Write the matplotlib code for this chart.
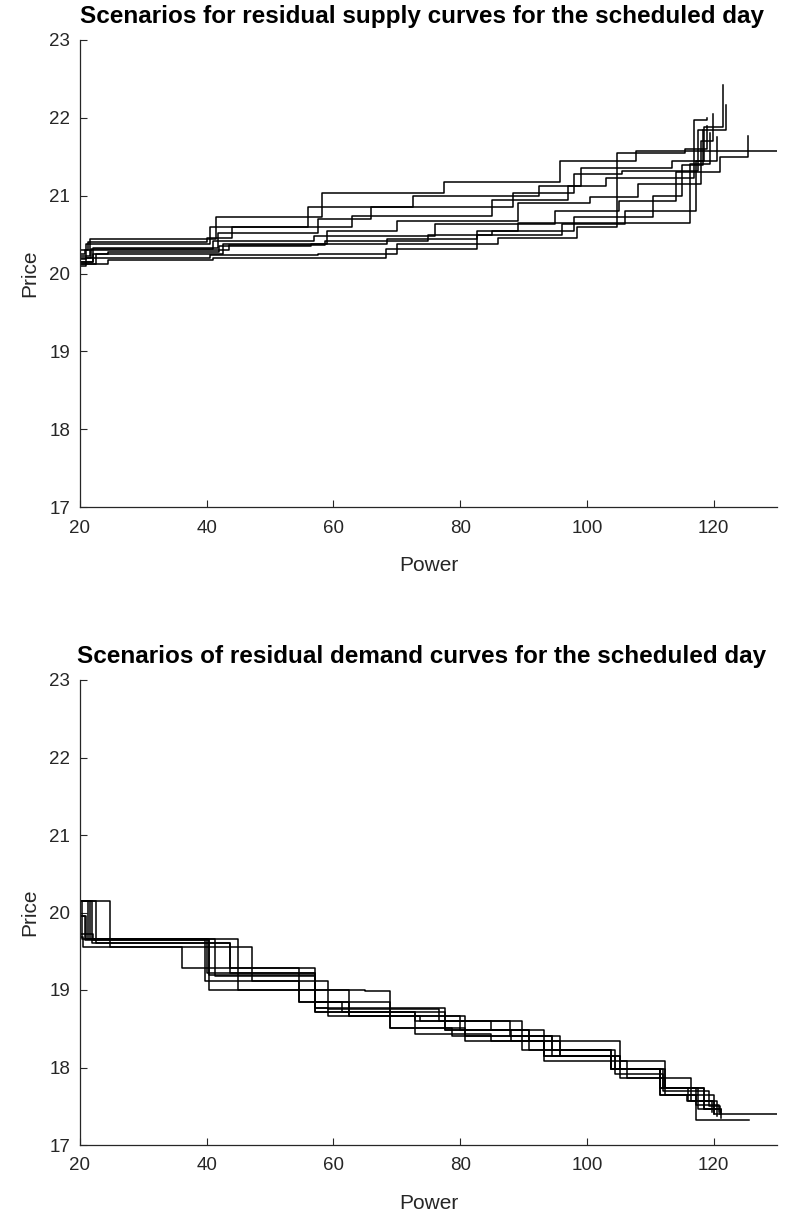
import matplotlib
matplotlib.use("Agg")
import matplotlib.pyplot as plt

plt.rcParams['font.family'] = ['Liberation Sans', 'DejaVu Sans']

# ---------------- data: residual supply scenarios (power breakpoints, price levels) ----
s1_x = [20, 21.5, 41.5, 58.2, 77.5, 95.8, 107.7, 130]
s1_y = [20.22, 20.44, 20.73, 21.04, 21.17, 21.44, 21.57, 21.57]
s2_x = [20, 21, 40.5, 56, 72.6, 92.5, 99, 113.5, 118.5, 121.4]
s2_y = [20.18, 20.38, 20.6, 20.86, 21.0, 21.13, 21.36, 21.45, 21.88, 22.42]
s3_x = [20, 22, 41.8, 57.5, 66, 88.4, 98, 105.5, 117.5, 121.9]
s3_y = [20.15, 20.33, 20.52, 20.70, 20.85, 21.03, 21.28, 21.32, 21.85, 22.16]
s4_x = [20, 21.2, 40, 44, 63, 85, 97, 103, 116.9, 119]
s4_y = [20.3, 20.40, 20.46, 20.6, 20.74, 20.95, 21.13, 21.23, 21.97, 22.0]
s5_x = [20, 22.5, 42.5, 59, 70, 89.2, 100.5, 108, 118, 119.9]
s5_y = [20.12, 20.25, 20.38, 20.55, 20.68, 20.9, 20.98, 21.15, 21.7, 22.05]
s6_x = [20, 21.8, 41, 57, 76, 95, 105, 114, 121, 125.4]
s6_y = [20.2, 20.32, 20.42, 20.48, 20.63, 20.8, 20.93, 21.3, 21.5, 21.77]
s7_x = [20, 20.8, 43.5, 58.6, 75, 85, 98, 110.5, 115, 118.4]
s7_y = [20.25, 20.30, 20.37, 20.42, 20.5, 20.55, 20.72, 21.0, 21.4, 21.85]
s8_x = [20, 22, 24.4, 42, 56.5, 68.5, 82.7, 96, 106, 117.2, 120.6]
s8_y = [20.15, 20.25, 20.28, 20.35, 20.38, 20.44, 20.5, 20.63, 20.8, 21.45, 21.75]
s9_x = [20, 21, 40.5, 57.5, 70, 86, 98.5, 104.8, 115.5, 118.9]
s9_y = [20.1, 20.2, 20.24, 20.25, 20.38, 20.45, 20.6, 21.55, 21.6, 21.9]
s10_x = [20, 24.4, 41, 68.3, 82.7, 89.2, 116.3, 119.5]
s10_y = [20.12, 20.17, 20.2, 20.32, 20.55, 20.65, 21.41, 21.8]

supply_x = [s1_x, s2_x, s3_x, s4_x, s5_x, s6_x, s7_x, s8_x, s9_x, s10_x]
supply_y = [s1_y, s2_y, s3_y, s4_y, s5_y, s6_y, s7_y, s8_y, s9_y, s10_y]

# ---------------- data: residual demand scenarios ----------------
d1_x = [20, 24.7, 36.1, 54.5, 69.0, 80.8, 93.2, 103.8, 111.6, 117.2, 125.6]
d1_y = [20.15, 19.55, 19.29, 18.84, 18.51, 18.34, 18.15, 17.98, 17.65, 17.32, 17.32]
d2_x = [20, 20.3, 40.3, 57.1, 77.6, 88, 95.8, 105.3, 112.4, 120.1, 130]
d2_y = [20.15, 19.66, 19.2, 18.77, 18.49, 18.34, 18.15, 17.87, 17.65, 17.40, 17.40]
d3_x = [20, 20.8, 39.7, 59.2, 76.6, 89.8, 94.5, 103.8, 112, 118.5, 121.1]
d3_y = [19.95, 19.64, 19.12, 18.75, 18.6, 18.41, 18.23, 17.98, 17.74, 17.46, 17.40]
d4_x = [20, 21.3, 41.3, 57.1, 62.4, 80.0, 90.8, 104.5, 111.6, 116, 120.5]
d4_y = [20.15, 19.66, 19.18, 18.84, 18.66, 18.49, 18.23, 17.98, 17.74, 17.57, 17.46]
d5_x = [20, 21.9, 43.7, 57.1, 72.9, 84.8, 93.2, 106.4, 112.4, 117.2, 120.8]
d5_y = [20.15, 19.61, 19.22, 18.71, 18.43, 18.34, 18.08, 17.87, 17.74, 17.52, 17.43]
d6_x = [20, 21, 45.0, 62.4, 73.7, 87.9, 95.8, 105.3, 111.6, 115.8, 120.1]
d6_y = [19.95, 19.66, 19.0, 18.66, 18.6, 18.41, 18.15, 17.98, 17.65, 17.57, 17.40]
d7_x = [20, 22, 40.3, 65.0, 69.0, 78.7, 89.8, 103.8, 112.4, 118.5, 121.1]
d7_y = [19.72, 19.64, 19.0, 18.99, 18.51, 18.41, 18.23, 17.98, 17.74, 17.46, 17.35]
d8_x = [20, 20.5, 47.1, 54.5, 61.3, 77.6, 93.2, 104.5, 112, 119.2, 121]
d8_y = [19.68, 19.55, 19.12, 18.84, 18.71, 18.49, 18.15, 17.92, 17.7, 17.5, 17.4]
d9_x = [20, 21.5, 40, 57.1, 59.2, 80.8, 94.5, 103.8, 111.6, 117.5, 120.5]
d9_y = [20.15, 19.66, 19.22, 18.77, 18.66, 18.41, 18.15, 17.98, 17.74, 17.46, 17.38]
d10_x = [20, 22.6, 43.7, 57.1, 72.9, 84.8, 90.8, 105.3, 112.4, 116.5, 119.8]
d10_y = [20.15, 19.61, 19.29, 18.71, 18.6, 18.49, 18.34, 18.08, 17.87, 17.57, 17.42]

demand_x = [d1_x, d2_x, d3_x, d4_x, d5_x, d6_x, d7_x, d8_x, d9_x, d10_x]
demand_y = [d1_y, d2_y, d3_y, d4_y, d5_y, d6_y, d7_y, d8_y, d9_y, d10_y]

x_ticks = [20, 40, 60, 80, 100, 120]
y_ticks = [17, 18, 19, 20, 21, 22, 23]
titles = ["Scenarios for residual supply curves for the scheduled day",
          "Scenarios of residual demand curves for the scheduled day"]

# ---------------- figure ----------------
W, H = 792, 1228
fig = plt.figure(figsize=(W / 100, H / 100), dpi=100)
ax_top = fig.add_axes([80 / W, 1 - 507 / H, 697 / W, 467 / H])
ax_bot = fig.add_axes([80 / W, 1 - 1145 / H, 697 / W, 465 / H])

axis_col = '#262626'
for ax, xs, ys, title in [(ax_top, supply_x, supply_y, titles[0]),
                          (ax_bot, demand_x, demand_y, titles[1])]:
    for xv, yv in zip(xs, ys):
        ax.plot(xv, yv, drawstyle='steps-post', color='black', lw=1.1)
    ax.set_xlim(20, 130)
    ax.set_ylim(17, 23)
    ax.set_xticks(x_ticks)
    ax.set_yticks(y_ticks)
    ax.spines['top'].set_visible(False)
    ax.spines['right'].set_visible(False)
    for s in ('left', 'bottom'):
        ax.spines[s].set_color(axis_col)
        ax.spines[s].set_linewidth(0.9)
    ax.tick_params(direction='in', length=5, width=0.8, colors=axis_col,
                   labelsize=13.5)
    ax.tick_params(axis='x', pad=9)
    ax.tick_params(axis='y', pad=7)
    ax.set_xlabel('Power', fontsize=15, color=axis_col, labelpad=14)
    ax.set_ylabel('Price', fontsize=15, color=axis_col, labelpad=7)
    t = ax.set_title(title, fontsize=17.5, fontweight='bold', color='black', pad=12)
    t.set_x(0.49)

fig.savefig('out.png', dpi=100)
